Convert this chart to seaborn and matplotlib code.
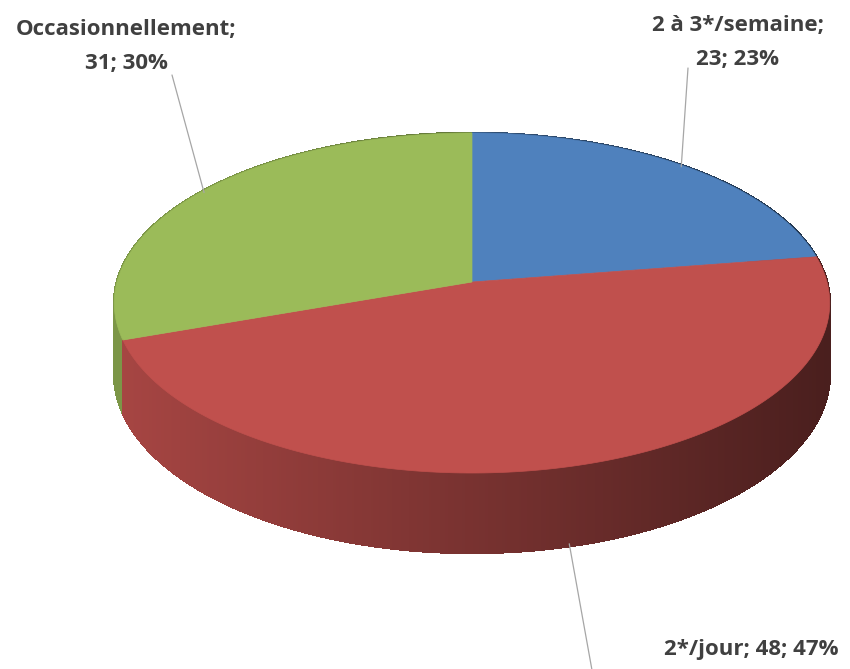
import numpy as np
import matplotlib
matplotlib.use("Agg")
import matplotlib.pyplot as plt
from matplotlib.patches import Polygon
from matplotlib.colors import to_rgb
import seaborn as sns

# ---- data ----
categories = ["2 à 3*/semaine", "2*/jour", "Occasionnellement"]
values = [23, 48, 31]
colors = ["#4F81BD", "#C0504D", "#9BBB59"]

sns.set_theme(style="white")
plt.rcParams["font.family"] = ["Open Sans", "DejaVu Sans"]

fig = plt.figure(figsize=(8.5, 6.69), dpi=100)
ax = fig.add_axes([0, 0, 1, 1])
ax.set_xlim(0, 850)
ax.set_ylim(669, 0)
ax.axis("off")

# ---- 3D projection geometry ----
CX, CY = 472.0, 282.0
P, R, S, T0 = 132.6, -0.1235, 355.0, 70.0


def proj(theta_deg, rad=1.0):
    t = np.radians(theta_deg)
    u = rad * np.sin(t)
    v = -rad * np.cos(t)
    d = 1 + R * v
    x = CX + S * u / d
    y = (P * v + CY) / d
    return x, y, d, v


total = float(sum(values))
cum = np.concatenate([[0], np.cumsum(values)]) / total * 360.0

# ---- side walls ----
quads = []
for i, (a0, a1) in enumerate(zip(cum[:-1], cum[1:])):
    th = np.arange(a0, a1, 0.4)
    th = np.append(th, a1)
    base = np.array(to_rgb(colors[i]))
    for j in range(len(th) - 1):
        x0, y0, d0, v0 = proj(th[j])
        x1, y1, d1, v1 = proj(th[j + 1])
        pts = [(x0, y0), (x1, y1), (x1, y1 + T0 / d1), (x0, y0 + T0 / d0)]
        xm = 0.5 * (x0 + x1)
        f = 0.86 - (xm - 130) / (820 - 130) * 0.47
        f = float(np.clip(f, 0.36, 0.9))
        if i == 2:
            f = min(f, 0.8)
        col = tuple(np.clip(base * f, 0, 1))
        quads.append((0.5 * (v0 + v1), pts, col))

quads.sort(key=lambda q: q[0])
for _, pts, col in quads:
    ax.add_patch(Polygon(pts, closed=True, facecolor=col, edgecolor=col,
                         linewidth=1.2, antialiased=False, zorder=1))

# ---- top faces ----
for i, (a0, a1) in enumerate(zip(cum[:-1], cum[1:])):
    th = np.linspace(a0, a1, 200)
    x, y, _, _ = proj(th)
    pts = [(CX, CY)] + list(zip(x, y))
    ax.add_patch(Polygon(pts, closed=True, facecolor=colors[i],
                         edgecolor=colors[i], linewidth=0.5, zorder=2))

# ---- labels & leader lines ----
pct = [round(v / total * 100) for v in values]
label_pos = [(738, 26, 60), (751, 649, None), (126, 29, 63)]
txt_color = "#404040"
line_color = "#A6A6A6"
fs = 16

for i, cat in enumerate(categories):
    mid = 0.5 * (cum[i] + cum[i + 1])
    x, y, d, v = proj(mid, 0.99)
    if v > 0.5:
        y = y + T0 / d
    lx, ly1, ly2 = label_pos[i]
    if ly2 is not None:
        ax.text(lx, ly1, f"{cat};", ha="center", va="center", fontsize=fs,
                fontweight="bold", color=txt_color, zorder=5)
        ax.text(lx, ly2, f"{values[i]}; {pct[i]}%", ha="center", va="center",
                fontsize=fs, fontweight="bold", color=txt_color, zorder=5)
    else:
        ax.text(lx, ly1, f"{cat}; {values[i]}; {pct[i]}%", ha="center",
                va="center", fontsize=fs, fontweight="bold", color=txt_color,
                zorder=5)
    if i == 0:
        ax.plot([x, 688], [y, 68], color=line_color, lw=0.9, zorder=3)
    elif i == 1:
        ax.plot([x, x + (669 - y) * 0.18], [y, 669], color=line_color, lw=0.9, zorder=3)
    else:
        ax.plot([x, 172], [y, 75], color=line_color, lw=0.9, zorder=3)

fig.savefig("out.png", dpi=100, facecolor="white")
